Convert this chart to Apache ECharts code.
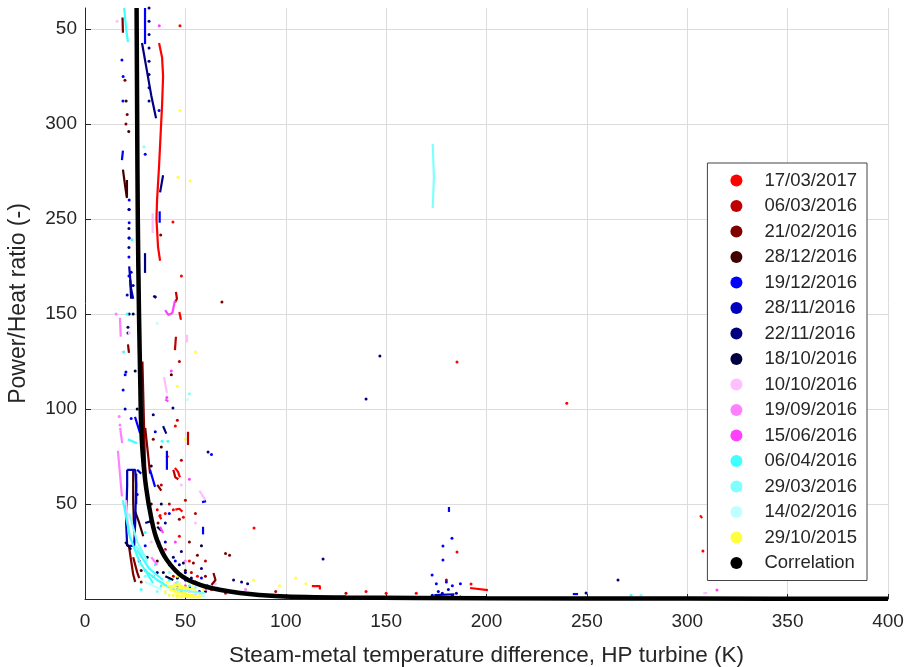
<!DOCTYPE html>
<html>
<head>
<meta charset="utf-8">
<script src="https://cdn.jsdelivr.net/npm/echarts@6/dist/echarts.min.js"></script>
<style>
  html, body { margin: 0; padding: 0; background: #fff; }
  #chart { width: 905px; height: 667px; }
</style>
</head>
<body>
<div id="chart"></div>
<script>
// legend names + colours (matlab-ish shades)
const dateNames = ['17/03/2017', '06/03/2016', '21/02/2016', '28/12/2016', '19/12/2016', '28/11/2016',
  '22/11/2016', '18/10/2016', '10/10/2016', '19/09/2016', '15/06/2016', '06/04/2016',
  '29/03/2016', '14/02/2016', '29/10/2015'];
const dateColors = ['#ff0000', '#c00000', '#800000', '#400000', '#0000ff', '#0000bf', '#000080', '#000040',
  '#ffbfff', '#ff80ff', '#ff40ff', '#40ffff', '#80ffff', '#bfffff', '#ffff40'];

// y tick labels as printed on the figure (tick every 50 units)
const yTickLabels = ['', '50', '100', '150', '250', '300', '50'];

// correlation curve
const corrX = [25.7, 26.0, 26.3, 26.9, 27.6, 27.9, 28.7, 30.4, 33.2, 35.9, 40.8, 48.8, 60.8, 77.2, 97, 130, 200, 300, 400];
const corrY = [311, 250, 200, 150, 110, 94, 77, 59, 41.6, 31, 20.5, 11.6, 6.3, 3.2, 1.5, 0.8, 0.4, 0.2, 0.1];

// dots and streaks per test day
const d1703Dots = [[47.3, 301.6], [43.8, 198.4], [84.2, 37.4], [185.3, 124.7], [240, 103], [185.3, 24.7], [192.3, 7.9],
  [307.8, 25.3], [37.4, 44], [45, 91], [140, 4], [150, 3], [165, 3], [63, 5], [70, 3], [48, 170], [41, 75], [47, 33],
  [56, 12], [36, 47], [40, 45], [44, 47], [49, 43], [52, 20]];
const d1703Lines = [
  [[36.9, 292.6], [38.4, 285], [38.9, 275], [38.4, 260], [37.9, 249.5], [36.9, 228], [35.9, 210], [35.6, 200], [36.4, 185], [37.4, 178]],
  [[47.0, 151], [47.8, 147]], [[306.4, 44], [307.4, 42.6]], [[191.8, 5.8], [200.7, 4.7]], [[113, 6.8], [117, 6.8], [117, 5]],
  [[44.8, 69], [46.3, 67], [47.3, 64]], [[45, 47], [47, 47.5], [48.5, 46]], [[37, 44], [38, 42]]];

const d0603Dots = [[46, 94], [48, 73], [50, 52], [40, 26], [44, 12], [60, 20], [38, 60], [55, 45], [95, 4], [130, 3], [180, 10],
  [47, 125], [42, 50], [53, 14]];
const d0603Lines = [[[45.3, 161.6], [45.8, 158], [44.8, 156]], [[45.3, 138], [44.8, 131]], [[51.3, 88], [51.3, 81]],
  [[30, 62], [31, 55]], [[44, 68], [45, 64], [46.5, 63]]];

const d2102Dots = [[19.9, 273], [21, 255], [20.4, 250], [68.2, 156.3], [37.7, 191.6], [36.4, 40], [70, 24], [72, 23], [44, 16],
  [47, 42], [34, 84], [28, 9], [54, 19], [60, 12], [52, 30], [56, 23]];
const d2102Lines = [[[18.7, 306], [18.9, 298]], [[28.6, 125], [29.2, 100], [29.8, 75], [30.4, 58]], [[21.4, 134], [21.9, 129.5]],
  [[22, 27], [23, 20], [24, 13], [25, 9]], [[24, 22], [26, 14], [27, 11]], [[64, 13.7], [65, 10], [63, 7.4]], [[36, 60], [38, 57]],
  [[30, 90], [31.5, 75], [32.4, 66]]];

const d2812Dots = [[20.5, 262], [21.8, 246], [43, 118], [38, 80], [33, 50], [36, 20], [50, 15], [28, 15]];
const d2812Lines = [[[18.9, 226], [19.9, 218], [20.9, 211]], [[20.9, 220.5], [20.9, 211.6]], [[24, 68], [24, 52], [24.5, 35]],
  [[25.5, 66], [25.5, 50]], [[25, 46], [27, 40], [29, 33]]];

const d1912Dots = [[18.4, 283.7], [19, 275], [18.9, 262], [36.9, 257], [30, 234], [22, 210], [22, 205], [22, 198],
  [182.8, 32], [178.3, 27.9], [178.3, 20.5], [172.9, 12.6], [175, 8], [180, 9], [183, 7], [187, 8], [20, 118], [19, 110],
  [20.4, 119.5], [23, 95], [35, 88], [26, 55], [42, 45], [30, 28], [45, 20], [55, 8], [63, 76], [58, 11], [61, 7], [21.9, 190],
  [21.9, 180], [21.9, 170]];
const d1912Lines = [[[29.9, 311], [29.9, 292]], [[37.2, 204], [37.2, 198]], [[18.9, 236], [18.4, 231]], [[40.8, 78], [40.8, 68]],
  [[58.8, 38], [58.8, 34]], [[181.3, 48.4], [181.3, 45.8]], [[58.3, 51], [60.3, 51.5]], [[243, 2.6], [245.6, 2.6]],
  [[24.9, 95.8], [27.4, 87.4]], [[32.4, 68], [34.9, 59]]];

const d2811Dots = [[173, 2], [176, 4], [178, 3], [181, 5], [183, 2], [185, 3], [187, 1], [22, 190], [23, 172], [24, 165],
  [21, 160], [20, 100], [29, 70], [27, 20], [40, 30], [34, 12], [46, 6], [50, 10], [57, 4]];
const d2811Lines = [[[21, 68], [25, 68], [25.5, 60], [25, 40], [24.5, 28], [21, 28], [20.5, 40], [21, 60], [21, 68]],
  [[22, 175], [23, 163], [24, 158]], [[174, 2], [184, 2.5]], [[26, 68], [28, 66]]];

const d2211Dots = [[31.9, 311], [31.9, 304], [31.9, 297], [31.9, 290], [31.9, 283], [31.9, 276], [31.9, 269], [31.9, 262],
  [34.9, 159], [146.9, 127.9], [140, 105.3], [61.3, 77.4], [265.5, 10], [249.6, 3.2], [43.8, 100.5], [118.6, 21],
  [21.9, 205], [21.9, 195], [21.9, 185], [22, 150], [21.4, 143], [21.4, 140], [34, 97], [40, 40], [48, 25], [36, 14],
  [58, 16], [44, 22], [47, 18], [50, 14], [53, 11], [74, 10], [78, 9], [81, 8]];
const d2211Lines = [[[28.4, 292.6], [30.5, 280], [33, 265], [35.4, 253]], [[38.9, 223], [37.4, 214]],
  [[29.9, 182], [29.9, 171.6]], [[34, 159.5], [35.5, 158.5]], [[22.5, 168], [23, 158]], [[30, 40], [33, 41]],
  [[38.9, 91], [40.5, 87]]];

const d1810Dots = [[24, 150], [25, 120], [26, 100], [33, 70], [38, 50], [31, 22], [42, 18], [46, 11], [52, 6], [60, 4], [58, 28],
  [45, 15], [49, 19], [39, 14], [55, 9]];
const d1810Lines = [[[20, 30], [23, 26]], [[36, 38], [38, 36]], [[40, 12], [44, 10]]];

const d1010Dots = [[16, 304], [26, 300], [22, 140], [19, 130], [48, 60], [55, 40], [65, 8], [33, 30], [52, 4], [58, 3], [62, 6]];
const d1010Lines = [[[33.7, 203], [33.7, 192.6]], [[39.4, 116.8], [40.8, 108.4]], [[308, 3], [310, 3.3]], [[57, 57], [60, 52]],
  [[50.8, 139], [50.8, 135]], [[20.4, 52], [21.9, 34]]];

const d1909Dots = [[15.5, 150], [17, 96], [17.4, 91.6], [37, 30], [50, 20], [45, 8], [80, 5], [48, 5], [55, 2]];
const d1909Lines = [[[17.4, 148], [17.8, 138]], [[16.4, 78], [17.4, 66], [18.4, 54]], [[17.5, 90], [18.5, 82]], [[36, 28], [40, 25]],
  [[33, 22], [36, 18]]];

const d1506Dots = [[40.8, 106], [314.8, 4.7], [37, 301.6], [43, 120], [52, 63], [30, 15], [45, 30], [50, 7], [60, 5]];
const d1506Lines = [[[39.9, 152], [41.5, 149.5], [43.5, 150.5], [44.8, 157]], [[40, 105], [41.5, 104]],
  [[37.4, 38], [38.9, 34.7]]];

const d0604Dots = [[19.4, 130], [21, 150], [23.4, 189], [30, 35], [35, 18], [42, 10], [28, 5], [48, 4], [272, 2], [38, 7],
  [38.4, 83], [41.3, 83], [44, 5], [52, 7]];
const d0604Lines = [[[19.5, 311], [20.5, 300], [21.4, 293]], [[21.4, 84], [25.9, 82]], [[18.9, 52], [22.4, 32.6], [27, 20], [33.9, 8.4]],
  [[25.9, 25.8], [32, 16], [38.9, 10]], [[30, 15], [36, 10], [42, 6]]];

const d2903Dots = [[29.4, 238], [52, 108], [42, 14], [30, 12], [55, 6], [277, 2], [46, 9], [36, 4]];
const d2903Lines = [[[173.2, 239.5], [173.8, 222], [173.2, 205.8]], [[25, 28], [30, 22]], [[45, 5], [60, 3]],
  [[22, 45], [26, 30], [31, 20]]];

const d1402Dots = [[36, 145], [51, 105], [27, 18], [33, 8], [40, 3], [50, 2], [66, 6], [75, 4], [34, 12], [44, 7]];
const d1402Lines = [[[30, 9], [38, 5]], [[48, 2], [60, 1.5]]];

const d2910Dots = [[47.3, 257], [46.3, 222], [52.3, 220], [55, 130], [46, 112], [110, 8], [97, 7], [105, 11], [41, 9], [43, 6],
  [45, 4], [47, 8], [49, 3], [51, 6], [53, 2], [44, 2], [48, 1], [52, 9], [40, 4], [46, 12], [98, 2], [50, 84], [84, 10],
  [42, 2], [55, 4], [57, 2], [59, 5], [46, 1], [50, 4], [54, 8], [43, 11], [39, 7]];
const d2910Lines = [[[42, 5], [48, 3], [54, 2]], [[44, 8], [50, 6]], [[45, 2], [52, 1], [58, 1]], [[41, 7], [46, 6], [55, 5]]];

const dotsByDate = [d1703Dots, d0603Dots, d2102Dots, d2812Dots, d1912Dots, d2811Dots, d2211Dots, d1810Dots,
  d1010Dots, d1909Dots, d1506Dots, d0604Dots, d2903Dots, d1402Dots, d2910Dots];
const linesByDate = [d1703Lines, d0603Lines, d2102Lines, d2812Lines, d1912Lines, d2811Lines, d2211Lines, d1810Lines,
  d1010Lines, d1909Lines, d1506Lines, d0604Lines, d2903Lines, d1402Lines, d2910Lines];

const series = [];
dateNames.forEach((name, i) => {
  const color = dateColors[i];
  series.push({
    type: 'scatter', name: name, data: dotsByDate[i], symbolSize: 3,
    itemStyle: { color: color, opacity: 1 }, silent: true
  });
  linesByDate[i].forEach(seg => {
    series.push({
      type: 'line', name: name, data: seg, showSymbol: false, silent: true,
      lineStyle: { color: color, width: 2.2 }, itemStyle: { color: color }
    });
  });
});
series.push({
  type: 'line', name: 'Correlation', data: corrX.map((x, i) => [x, corrY[i]]),
  showSymbol: false, smooth: 0.3, silent: true, z: 5,
  lineStyle: { color: '#000', width: 4.5 }, itemStyle: { color: '#000' }
});

const chart = echarts.init(document.getElementById('chart'));
chart.setOption({
  animation: false,
  textStyle: { fontFamily: 'Liberation Sans, Arial, sans-serif' },
  grid: { left: 85, right: 17, top: 8, bottom: 68, containLabel: false, outerBoundsMode: 'none' },
  legend: {
    orient: 'vertical', right: 38, top: 163,
    data: dateNames.concat(['Correlation']).map(n => ({ name: n, icon: 'circle' })),
    itemWidth: 12, itemHeight: 12, itemGap: 6.5,
    padding: [8, 10, 8, 23],
    backgroundColor: '#fff', borderColor: '#444', borderWidth: 1, borderRadius: 0,
    textStyle: { fontSize: 18.5, color: '#262626', padding: [0, 0, 0, 17], lineHeight: 18 }
  },
  xAxis: {
    type: 'value', min: 0, max: 400, interval: 50,
    name: 'Steam-metal temperature difference, HP turbine (K)',
    nameLocation: 'middle', nameGap: 45,
    nameTextStyle: { fontSize: 22.5, color: '#262626' },
    axisLine: { show: true, lineStyle: { color: '#262626', width: 1 } },
    axisTick: { show: true, inside: true, length: 5, lineStyle: { color: '#262626' } },
    axisLabel: { fontSize: 19, color: '#262626', margin: 13 },
    splitLine: { show: true, lineStyle: { color: '#dcdcdc', width: 1 } }
  },
  yAxis: {
    type: 'value', min: 0, max: 311, interval: 50,
    name: 'Power/Heat ratio (-)',
    nameLocation: 'middle', nameGap: 55, nameRotate: 90,
    nameTextStyle: { fontSize: 23, color: '#262626' },
    axisLine: { show: true, lineStyle: { color: '#262626', width: 1 } },
    axisTick: { show: true, inside: true, length: 6, lineStyle: { color: '#262626' } },
    axisLabel: {
      fontSize: 19, color: '#262626', margin: 8, showMaxLabel: false,
      formatter: v => yTickLabels[Math.round(v / 50)] || ''
    },
    splitLine: { show: true, showMaxLine: false, lineStyle: { color: '#dcdcdc', width: 1 } }
  },
  series: series
});
</script>
</body>
</html>
